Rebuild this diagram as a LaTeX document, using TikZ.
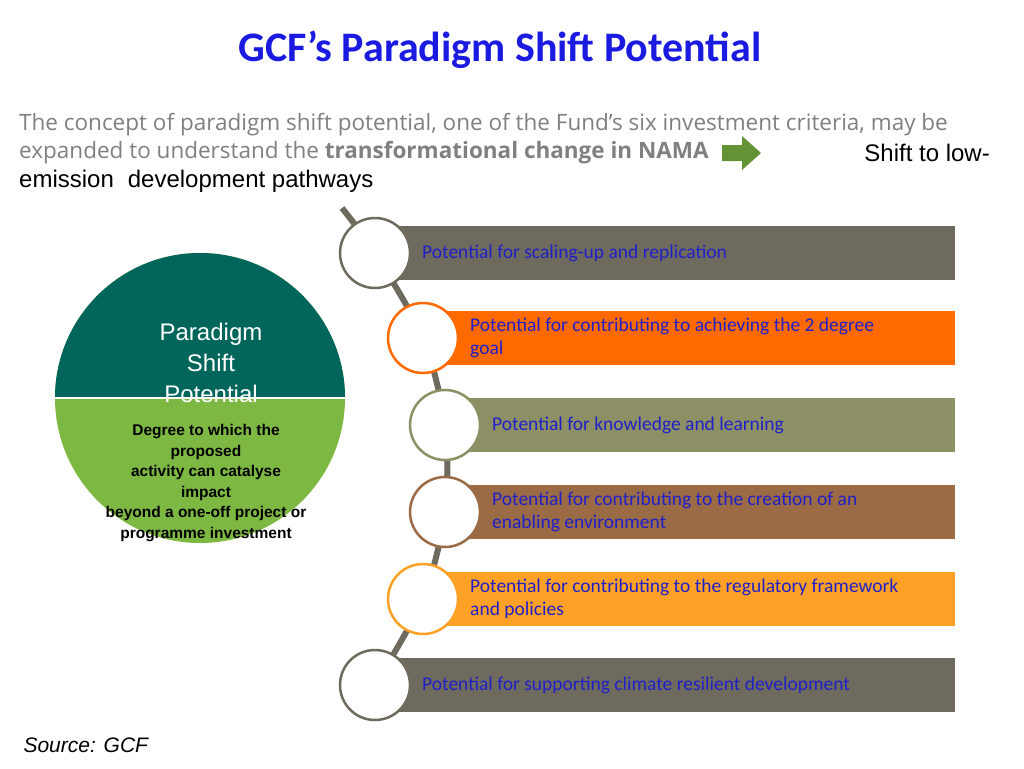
\documentclass[tikz,border=0pt]{standalone}
\usepackage{fontspec}
\setmainfont{Carlito}
\newfontfamily\osans{Open Sans}
\newfontfamily\arial{Liberation Sans}
\definecolor{tblue}{HTML}{1A1AE0}
\definecolor{ptext}{HTML}{2020C8}
\definecolor{cA}{HTML}{6F6A5E}
\definecolor{cB}{HTML}{FF6A00}
\definecolor{cC}{HTML}{8D8F64}
\definecolor{cD}{HTML}{9A6B45}
\definecolor{cE}{HTML}{FFA126}
\definecolor{myteal}{HTML}{00665C}
\definecolor{lgreen}{HTML}{7DB843}
\begin{document}
\begin{tikzpicture}[x=1pt,y=-1pt,
  bar/.style={minimum height=54pt,inner sep=0pt,anchor=west},
  ring/.style={circle,fill=white,line width=2.5pt,minimum size=70pt,inner sep=0pt},
  lbl/.style={text=ptext,font=\fontsize{19.5}{23}\selectfont,anchor=west,align=left,inner sep=0pt}]
\useasboundingbox (0,0) rectangle (1024,768);
\fill[white] (0,0) rectangle (1024,768);
\node[font=\bfseries\fontsize{42}{46}\selectfont,text=tblue] (title) at (500,50) {GCF’s Paradigm Shift Potential};
\node[font=\osans\fontsize{22.5}{28}\selectfont,text=gray,anchor=west,inner sep=0pt] (l1) at (19,125) {The concept of paradigm shift potential, one of the Fund’s six investment criteria, may be};
\node[font=\osans\fontsize{22.5}{28}\selectfont,text=gray,anchor=west,inner sep=0pt] (l2) at (19,153) {expanded to understand the \textbf{transformational change in NAMA}};
\fill[lgreen!80!black] (722,145) -- (742,145) -- (742,136) -- (761,153) -- (742,170) -- (742,161) -- (722,161) -- cycle;
\coordinate (arr) at (742,153);
\node[font=\arial\fontsize{24}{28}\selectfont,anchor=east,inner sep=0pt] (l3) at (990,153) {Shift to low-};
\node[font=\arial\fontsize{24}{28}\selectfont,anchor=west,inner sep=0pt] (l4) at (19,181) {emission\hspace{14pt}development pathways};
% big circle
\fill[lgreen] (200,398) circle[radius=145];
\begin{scope}
\clip (40,240) rectangle (360,398);
\fill[myteal] (200,398) circle[radius=145];
\end{scope}
\draw[white,line width=1.5pt] (55,398) -- (345,398);
\coordinate (bc) at (200,398);
\node[text=white,font=\arial\fontsize{24}{31}\selectfont,align=center] (pt) at (211,363) {Paradigm\\Shift\\Potential};
\node[font=\arial\bfseries\fontsize{15.5}{20.5}\selectfont,align=center] (dt) at (206,483) {Degree to which the\\proposed\\activity can catalyse\\impact\\beyond a one-off project or\\programme investment};
% spine
\coordinate (s0) at (342,208);
\draw[cA,line width=6pt] plot[smooth] coordinates {(342,208) (375,253) (423,338) (445,425) (445,512) (423,599) (375,685)};
% bars
\node[bar,fill=cA,minimum width=560pt] (b1) at (395,253) {};
\node[bar,fill=cB,minimum width=510pt] (b2) at (445,338) {};
\node[bar,fill=cC,minimum width=490pt] (b3) at (465,425) {};
\node[bar,fill=cD,minimum width=490pt] (b4) at (465,512) {};
\node[bar,fill=cE,minimum width=510pt] (b5) at (445,599) {};
\node[bar,fill=cA,minimum width=560pt] (b6) at (395,685) {};
\node[ring,draw=cA] (c1) at (375,253) {};
\node[ring,draw=cB] (c2) at (423,338) {};
\node[ring,draw=cC] (c3) at (445,425) {};
\node[ring,draw=cD] (c4) at (445,512) {};
\node[ring,draw=cE] (c5) at (423,599) {};
\node[ring,draw=cA] (c6) at (375,685) {};
\node[lbl] (t1) at (422,253) {Potential for scaling-up and replication};
\node[lbl] (t2) at (470,338) {Potential for contributing to achieving the 2 degree\\goal};
\node[lbl] (t3) at (492,425) {Potential for knowledge and learning};
\node[lbl] (t4) at (492,512) {Potential for contributing to the creation of an\\enabling environment};
\node[lbl] (t5) at (470,599) {Potential for contributing to the regulatory framework\\and policies};
\node[lbl] (t6) at (422,685) {Potential for supporting climate resilient development};
\node[font=\arial\itshape\fontsize{21}{24}\selectfont,anchor=west] (src) at (20,745) {Source: GCF};
\end{tikzpicture}
\end{document}
